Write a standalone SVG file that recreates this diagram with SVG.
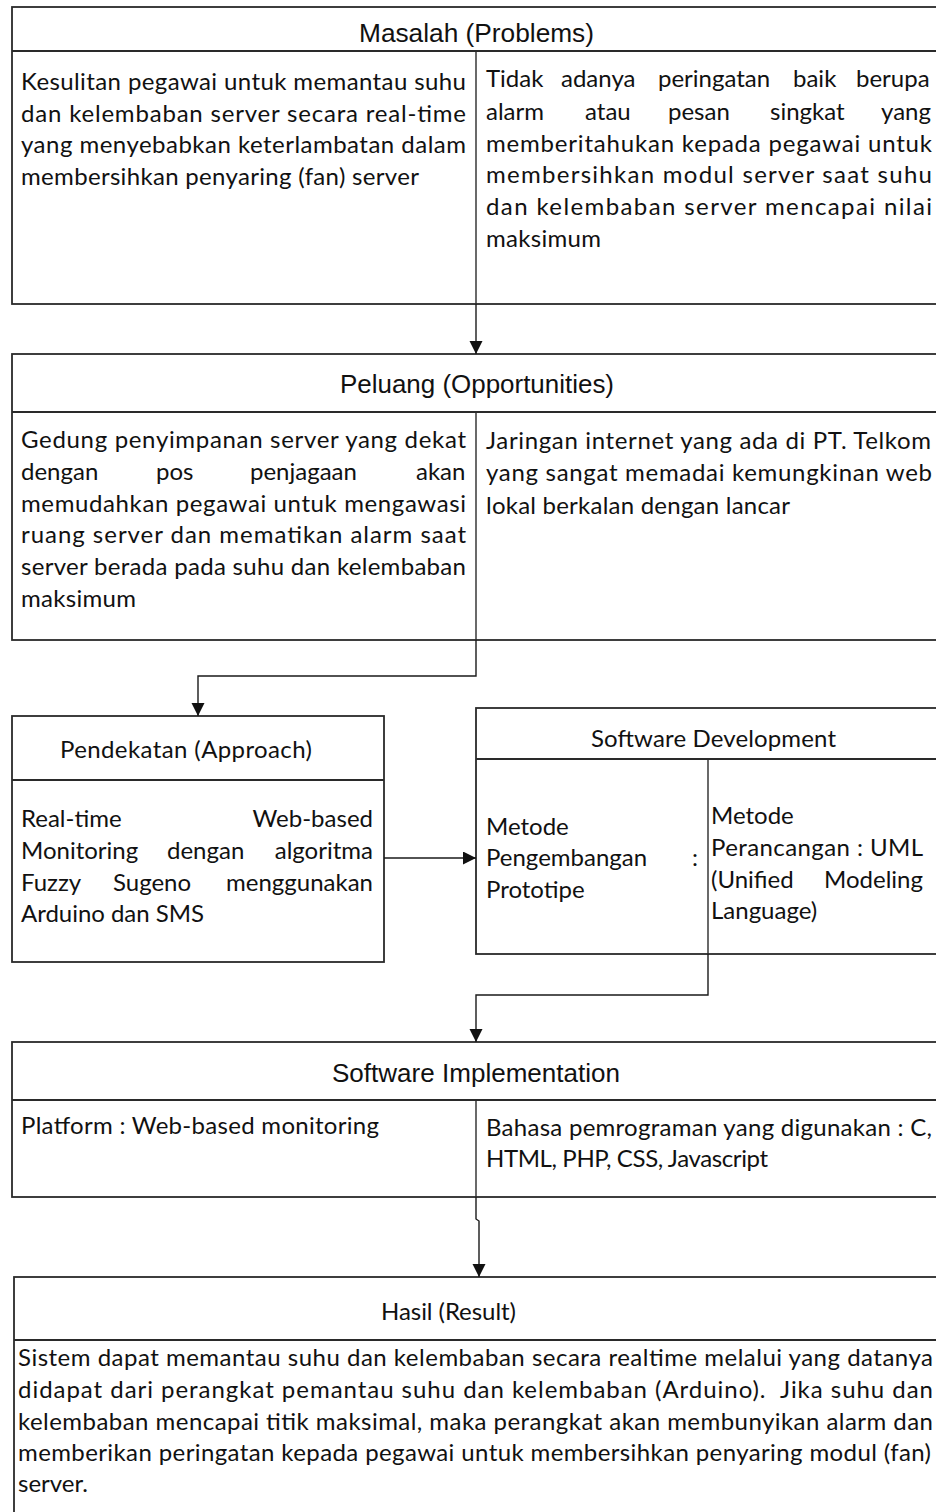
<svg xmlns="http://www.w3.org/2000/svg" width="936" height="1512" viewBox="0 0 936 1512">
<style>
.box{fill:#fff;stroke:#2a2a2a;stroke-width:1.8}
.hl{stroke:#2a2a2a;stroke-width:2.2}
.dv{stroke:#2a2a2a;stroke-width:1.4}
.conn{fill:none;stroke:#1a1a1a;stroke-width:1.4}
.ha{font-family:"Liberation Sans",Arial,sans-serif;font-size:25px;fill:#111}
.b{font-family:Lato,"Open Sans",sans-serif;font-size:24px;fill:#111}
.e{text-anchor:end}
</style>
<defs>
<marker id="arr" markerUnits="userSpaceOnUse" markerWidth="14" markerHeight="14" refX="13" refY="6.5" orient="auto">
<path d="M0,0 L13,6.5 L0,13 z" fill="#111"/>
</marker>
</defs>
<rect width="936" height="1512" fill="#fff"/>

<g id="masalah">
<rect class="box" x="12" y="7" width="930" height="297"/>
<line class="hl" x1="12" y1="51" x2="942" y2="51"/>
<line class="dv" x1="476" y1="51" x2="476" y2="304"/>
<text class="ha" x="359" y="42" textLength="235" lengthAdjust="spacingAndGlyphs">Masalah (Problems)</text>
<text class="b" x="21" y="90" textLength="445" lengthAdjust="spacing">Kesulitan pegawai untuk memantau suhu</text>
<text class="b" x="21" y="122" textLength="445" lengthAdjust="spacing">dan kelembaban server secara real-time</text>
<text class="b" x="21" y="153" textLength="445" lengthAdjust="spacing">yang menyebabkan keterlambatan dalam</text>
<text class="b" x="21" y="185" textLength="398" lengthAdjust="spacing">membersihkan penyaring (fan) server</text>
<text class="b" y="87"><tspan x="486">Tidak</tspan><tspan x="561">adanya</tspan><tspan x="658">peringatan</tspan><tspan x="793">baik</tspan><tspan x="856">berupa</tspan></text>
<text class="b" y="120"><tspan x="486">alarm</tspan><tspan x="585">atau</tspan><tspan x="668">pesan</tspan><tspan x="770">singkat</tspan><tspan x="881">yang</tspan></text>
<text class="b" x="486" y="152" textLength="446" lengthAdjust="spacing">memberitahukan kepada pegawai untuk</text>
<text class="b" x="486" y="183" textLength="446" lengthAdjust="spacing">membersihkan modul server saat suhu</text>
<text class="b" x="486" y="215" textLength="446" lengthAdjust="spacing">dan kelembaban server mencapai nilai</text>
<text class="b" x="486" y="247" textLength="115" lengthAdjust="spacing">maksimum</text>
</g>

<g id="peluang">
<rect class="box" x="12" y="354" width="930" height="286"/>
<line class="hl" x1="12" y1="412" x2="942" y2="412"/>
<line class="dv" x1="476" y1="412" x2="476" y2="640"/>
<text class="ha" x="340" y="393" textLength="274" lengthAdjust="spacingAndGlyphs">Peluang (Opportunities)</text>
<text class="b" x="21" y="448" textLength="445" lengthAdjust="spacing">Gedung penyimpanan server yang dekat</text>
<text class="b" y="480"><tspan x="21">dengan</tspan><tspan x="156">pos</tspan><tspan x="250">penjagaan</tspan><tspan x="416">akan</tspan></text>
<text class="b" x="21" y="512" textLength="445" lengthAdjust="spacing">memudahkan pegawai untuk mengawasi</text>
<text class="b" x="21" y="543" textLength="445" lengthAdjust="spacing">ruang server dan mematikan alarm saat</text>
<text class="b" x="21" y="575" textLength="445" lengthAdjust="spacing">server berada pada suhu dan kelembaban</text>
<text class="b" x="21" y="607" textLength="115" lengthAdjust="spacing">maksimum</text>
<text class="b" x="486" y="449" textLength="445" lengthAdjust="spacing">Jaringan internet yang ada di PT. Telkom</text>
<text class="b" x="486" y="481" textLength="446" lengthAdjust="spacing">yang sangat memadai kemungkinan web</text>
<text class="b" x="486" y="514" textLength="304" lengthAdjust="spacing">lokal berkalan dengan lancar</text>
</g>

<g id="pendekatan">
<rect class="box" x="12" y="716" width="372" height="246"/>
<line class="hl" x1="12" y1="780" x2="384" y2="780"/>
<text class="b" x="60" y="758" textLength="252" lengthAdjust="spacing">Pendekatan (Approach)</text>
<text class="b" y="827"><tspan x="21">Real-time</tspan></text>
<text class="b e" x="373" y="827">Web-based</text>
<text class="b" y="859"><tspan x="21">Monitoring</tspan><tspan x="167">dengan</tspan></text>
<text class="b e" x="373" y="859">algoritma</text>
<text class="b" y="891"><tspan x="21">Fuzzy</tspan><tspan x="113">Sugeno</tspan></text>
<text class="b e" x="373" y="891">menggunakan</text>
<text class="b" x="21" y="922" textLength="183" lengthAdjust="spacing">Arduino dan SMS</text>
</g>

<g id="software-development">
<rect class="box" x="476" y="708" width="466" height="246"/>
<line class="hl" x1="476" y1="759" x2="942" y2="759"/>
<line class="dv" x1="708" y1="759" x2="708" y2="954"/>
<text class="b" x="591" y="747" textLength="245" lengthAdjust="spacing">Software Development</text>
<text class="b" x="486" y="835">Metode</text>
<text class="b" x="486" y="866">Pengembangan</text>
<text class="b" x="692" y="866">:</text>
<text class="b" x="486" y="898">Prototipe</text>
<text class="b" x="711" y="824">Metode</text>
<text class="b" x="711" y="856" textLength="212" lengthAdjust="spacing">Perancangan : UML</text>
<text class="b" x="711" y="888">(Unified</text>
<text class="b e" x="923" y="888">Modeling</text>
<text class="b" x="711" y="919">Language)</text>
</g>

<g id="software-implementation">
<rect class="box" x="12" y="1042" width="930" height="155"/>
<line class="hl" x1="12" y1="1100" x2="942" y2="1100"/>
<line class="dv" x1="476" y1="1100" x2="476" y2="1197"/>
<text class="ha" x="332" y="1082" textLength="288" lengthAdjust="spacingAndGlyphs">Software Implementation</text>
<text class="b" x="21" y="1134" textLength="358" lengthAdjust="spacing">Platform : Web-based monitoring</text>
<text class="b" x="486" y="1136" textLength="446" lengthAdjust="spacing">Bahasa pemrograman yang digunakan : C,</text>
<text class="b" x="486" y="1167" textLength="282" lengthAdjust="spacing">HTML, PHP, CSS, Javascript</text>
</g>

<g id="hasil">
<rect class="box" x="14" y="1277" width="928" height="250"/>
<line class="hl" x1="14" y1="1340" x2="942" y2="1340"/>
<text class="b" x="381" y="1320" textLength="135" lengthAdjust="spacing">Hasil (Result)</text>
<text class="b" x="18" y="1366" textLength="915" lengthAdjust="spacing">Sistem dapat memantau suhu dan kelembaban secara realtime melalui yang datanya</text>
<text class="b" x="18" y="1398" textLength="915" lengthAdjust="spacing" xml:space="preserve">didapat dari perangkat pemantau suhu dan kelembaban (Arduino).  Jika suhu dan</text>
<text class="b" x="18" y="1430" textLength="915" lengthAdjust="spacing">kelembaban mencapai titik maksimal, maka perangkat akan membunyikan alarm dan</text>
<text class="b" x="18" y="1461" textLength="913" lengthAdjust="spacing">memberikan peringatan kepada pegawai untuk membersihkan penyaring modul (fan)</text>
<text class="b" x="18" y="1492">server.</text>
</g>

<g id="connectors">
<path class="conn" d="M476,304 L476,354" marker-end="url(#arr)"/>
<path class="conn" d="M476,640 L476,676 L198,676 L198,716" marker-end="url(#arr)"/>
<path class="conn" d="M384,858 L476,858" marker-end="url(#arr)"/>
<path class="conn" d="M708,954 L708,995 L476,995 L476,1042" marker-end="url(#arr)"/>
<path class="conn" d="M476,1197 L476,1219 L479,1221 L479,1277" marker-end="url(#arr)"/>
</g>
</svg>
